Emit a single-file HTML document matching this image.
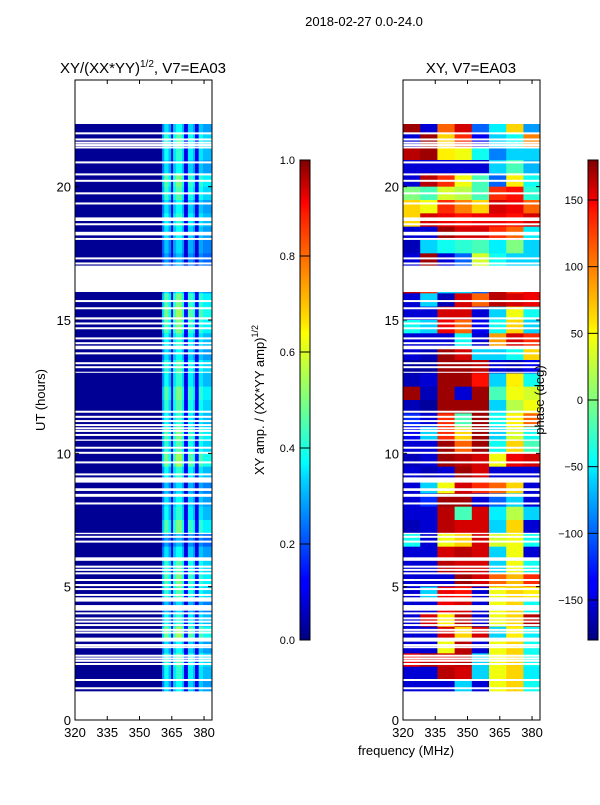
<!DOCTYPE html>
<html><head><meta charset="utf-8"><style>
body{margin:0;background:#fff;width:600px;height:800px;overflow:hidden}
svg text{font-family:"Liberation Sans","DejaVu Sans",sans-serif;fill:#000}
</style></head><body>
<svg id="fig" width="600" height="800" xmlns="http://www.w3.org/2000/svg">
<defs>
<linearGradient id="jet" x1="0" y1="1" x2="0" y2="0">
<stop offset="0" stop-color="#00007f"/><stop offset="0.11" stop-color="#0000ff"/><stop offset="0.125" stop-color="#0000ff"/>
<stop offset="0.34" stop-color="#00d8ff"/><stop offset="0.37" stop-color="#00ffff"/><stop offset="0.5" stop-color="#7fff7f"/>
<stop offset="0.64" stop-color="#ffff00"/><stop offset="0.66" stop-color="#ffe600"/><stop offset="0.89" stop-color="#ff1a00"/>
<stop offset="0.91" stop-color="#ff0000"/><stop offset="1" stop-color="#7f0000"/>
</linearGradient>
</defs>
<text x="364" y="26" font-size="13" text-anchor="middle">2018-02-27 0.0-24.0</text>
<g id="left"></g>
<g id="right"></g>
<g id="cbars"></g>
</svg>
<script>
// ---- data ----
const timeRowStarts = [22.0,21.5,21.0,20.5,20.0,19.5,19.0,18.5,18.0,17.5,17.0,16.5,16.0,15.5,15.0,14.5,14.0,13.5,13.0,12.5,12.0,11.5,11.0,10.5,10.0,9.5,9.0,8.5,8.0,7.5,7.0,6.5,6.0,5.5,5.0,4.5,4.0,3.5,3.0,2.5,2.0,1.5,1.0];
const leftFreqEdges = [320,360.5,361.5,363.5,364.7,365.6,367,369.8,370.7,372.5,374.9,375.8,377.5,379.5,383.7];
const leftColAmp = [0.02,0.25,0.35,0.28,0.1,0.32,0.38,0.3,0.1,0.33,0.28,0.1,0.32,0.28];
const leftRowGain = [1.0,1.2,1.1,1.0,1.3,1.2,1.0,1.1,1.0,0.9,0.8,1,1,1.3,1.4,1.3,1.1,1.0,1.2,1.1,1.3,1.2,1.1,1.3,1.2,1.4,1.1,0.9,1.0,1.1,1.3,0.8,1.0,1.2,1.3,1.2,0.9,1.1,1.4,1.0,1.2,1.1,1.0];
const rightFreqEdges = [320,328,336,344,352,360,368,376,383.7];
const phaseRows = [
[170,-150,100,150,-100,-50,60,-80],[-150,170,60,120,-140,-60,-40,90],[160,170,50,40,-40,-90,-60,-60],
[-150,-150,-150,-150,-150,-60,-20,-70],[-150,160,120,40,-20,-100,50,-40],[0,-20,30,20,-20,120,130,-30],
[60,40,120,90,60,150,140,100],[60,150,140,130,140,140,130,150],[-150,-150,170,150,150,120,100,-50],
[-160,-60,-40,-30,-20,-50,0,-60],[-150,170,-150,-100,30,-40,-60,-60],[0,0,0,0,0,0,0,0],
[160,120,-60,-60,-100,160,120,140],[-150,-60,-160,150,100,160,150,140],[-150,-150,150,150,-150,-60,40,-40],
[-40,-60,140,100,-140,-40,60,-60],[-150,-150,-150,-40,-150,80,150,120],[-150,-160,170,150,-60,-60,-40,60],
[-170,-170,170,170,160,-150,-160,-140],[-160,-150,170,170,130,-60,50,-40],[170,-160,170,-150,170,-20,40,30],
[-160,-170,170,170,170,-60,20,40],[-120,-150,120,-20,170,-40,50,100],[-140,-60,120,60,170,-60,30,-40],
[-150,-150,170,100,170,-40,60,-20],[-160,-150,170,160,150,40,140,150],[-150,-160,-150,170,150,-150,-150,-150],
[-150,-60,40,150,120,100,60,-150],[-150,-120,170,170,-150,-100,-60,-150],[-150,-150,160,-20,150,-50,20,-60],
[-160,-150,160,150,150,-60,60,-150],[-40,-150,40,60,150,30,40,-40],[-150,-150,150,160,150,-60,40,-150],
[-150,-150,160,150,150,-60,40,-40],[-150,-150,-150,170,150,100,70,120],[-150,-60,140,130,-150,40,60,50],
[-150,-150,140,150,-150,40,60,-40],[-150,150,50,160,-150,40,60,160],[-150,-150,150,60,150,-60,50,-50],
[-150,-150,40,160,-150,40,60,-40],[140,160,150,160,-60,40,60,-40],[-150,-150,160,150,-60,40,60,-50],
[-150,-150,-150,-60,-150,40,60,-40]];
const dataStart = 1.09, dataEnd = 22.35;
const gapBands = [[16.05,17.04],[10.47,10.52],[8.59,8.69],[8.37,8.48],[6.97,7.02],[5.97,6.1],[5.02,5.1],[4.44,4.6],[4.1,4.31],[2.94,3.09],[15.02,15.1],[13.02,13.06]];
const gapLines = [22.0,21.77,21.65,21.56,21.47,20.91,20.46,20.22,19.75,19.37,18.81,18.75,18.59,18.27,18.21,18.04,17.31,17.12,15.71,15.44,14.87,14.69,14.31,14.13,14.0,13.94,13.75,13.38,13.23,11.56,11.37,11.21,11.06,10.94,10.84,10.69,10.21,10.02,9.66,9.21,9.06,9.0,8.94,8.12,6.87,6.69,5.75,5.63,5.5,5.25,4.91,4.69,4.0,3.81,3.69,3.56,3.38,3.28,2.81,2.73,2.41,2.31,2.22,2.1,1.5,1.19];
const xTicks = [320,335,350,365,380];
const yTicks = [0,5,10,15,20];
const ampTicks = [0.0,0.2,0.4,0.6,0.8,1.0];
const phaseTicks = [-150,-100,-50,0,50,100,150];

// ---- helpers ----
const NS='http://www.w3.org/2000/svg';
function mk(tag,attrs,parent){const e=document.createElementNS(NS,tag);for(const k in attrs)e.setAttribute(k,attrs[k]);parent.appendChild(e);return e;}
function jet(v){v=Math.max(0,Math.min(1,v));
 const f=(x)=>Math.max(0,Math.min(1,x));
 const r=f(Math.min(4*v-1.5,-4*v+4.5)),g=f(Math.min(4*v-0.5,-4*v+3.5)),b=f(Math.min(4*v+0.5,-4*v+2.5));
 return `rgb(${Math.round(r*255)},${Math.round(g*255)},${Math.round(b*255)})`;}
const yOf=(h)=>720-(h/24)*640;
function xScale(x0){return (f)=>x0+(f-320)/(383.7-320)*137;}

function panel(g,x0,fillFn,edges,title){
 const xs=xScale(x0);
 const clip=mk('clipPath',{id:'c'+x0},document.querySelector('defs'));
 mk('rect',{x:x0,y:80,width:137,height:640},clip);
 const cells=mk('g',{'clip-path':`url(#c${x0})`},g);
 
 
 timeRowStarts.forEach((t,ri)=>{
  const t0=Math.max(t,dataStart),t1=Math.min(t+0.5,dataEnd); if(t1<=t0)return;
  for(let ci=0;ci<edges.length-1;ci++){
   const r=mk('rect',{x:xs(edges[ci]),y:yOf(t1),width:xs(edges[ci+1])-xs(edges[ci])+0.4,height:yOf(t0)-yOf(t1)+0.4,fill:fillFn(ri,ci)},cells);
   
   
  }});
 gapBands.forEach(b=>{const r=mk('rect',{x:x0,y:yOf(b[1]),width:137,height:yOf(b[0])-yOf(b[1]),fill:'#fff'},cells);
  });
 gapLines.forEach(h=>{const r=mk('rect',{x:x0,y:yOf(h)-1,width:137,height:2,fill:'#fff'},cells);
  });
 const fr=mk('rect',{x:x0,y:80,width:137,height:640,fill:'none',stroke:'#000','stroke-width':1},g);
 
 xTicks.forEach(v=>{const x=xs(v);
  mk('line',{x1:x,x2:x,y1:720,y2:716,stroke:'#000'},g);mk('line',{x1:x,x2:x,y1:80,y2:84,stroke:'#000'},g);
  const t=mk('text',{x:x,y:737,'font-size':13,'text-anchor':'middle'},g);t.textContent=v;
  });
 yTicks.forEach(v=>{const y=yOf(v);
  mk('line',{x1:x0,x2:x0+4,y1:y,y2:y,stroke:'#000'},g);mk('line',{x1:x0+137,x2:x0+133,y1:y,y2:y,stroke:'#000'},g);
  const t=mk('text',{x:x0-4,y:y+5,'font-size':13,'text-anchor':'end'},g);t.textContent=v;
  });
 const tt=mk('text',{x:x0+68,y:73,'font-size':15,'text-anchor':'middle'},g);tt.innerHTML=title;
 
}
panel(document.getElementById('left'),75,(ri,ci)=>{const a=leftColAmp[ci];return jet(a<0.05?a:a*leftRowGain[ri]);},leftFreqEdges,
 'XY/(XX*YY)<tspan dy="-6" font-size="10">1/2</tspan><tspan dy="6">, V7=EA03</tspan>');
panel(document.getElementById('right'),403,(ri,ci)=>jet((phaseRows[ri][ci]+180)/360),rightFreqEdges,'XY, V7=EA03');

const fig=document.getElementById('fig');
let t=mk('text',{x:0,y:0,'font-size':13,'text-anchor':'middle',transform:'translate(45,400) rotate(-90)'},fig);t.textContent='UT (hours)';

t=mk('text',{x:406,y:755,'font-size':13,'text-anchor':'middle'},fig);t.textContent='frequency (MHz)';


function cbar(x,ticks,lo,hi,label,lx,name){
 const g=mk('g',{},document.getElementById('cbars'));
 
 mk('rect',{x:x,y:160,width:10,height:480,fill:'url(#jet)',stroke:'#000'},g);
 ticks.forEach(v=>{const y=640-(v-lo)/(hi-lo)*480;
  mk('line',{x1:x,x2:x+5,y1:y,y2:y,stroke:'#000'},g);mk('line',{x1:x+10,x2:x+5,y1:y,y2:y,stroke:'#000'},g);
  const tt=mk('text',{x:x-5,y:y+4,'font-size':11,'text-anchor':'end'},g);tt.textContent=(lo===0?v.toFixed(1):(v<0?'\u2212'+(-v):v));
  });
 const l=mk('text',{x:0,y:0,'font-size':13,'text-anchor':'middle',transform:`translate(${lx},400) rotate(-90)`},g);l.innerHTML=label;
 
}
cbar(300,ampTicks,0,1,'XY amp. / (XX*YY amp)<tspan dy="-6" font-size="9">1/2</tspan>',264,'amplitude-colorbar');
cbar(588,phaseTicks,-180,180,'phase (deg)',544,'phase-colorbar');
</script>
</body></html>
